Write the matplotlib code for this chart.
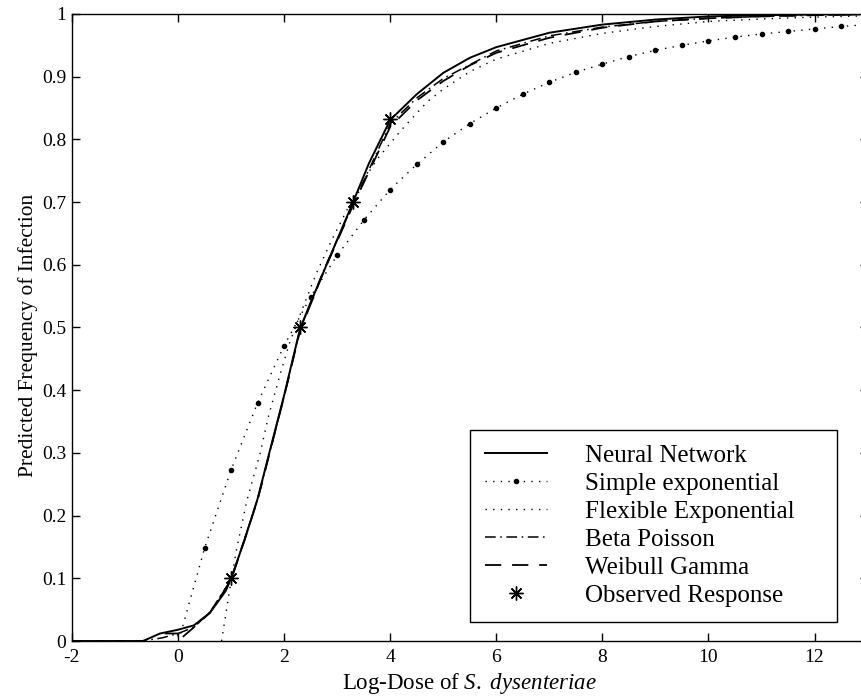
import numpy as np
import matplotlib
matplotlib.use("Agg")
import matplotlib.pyplot as plt

plt.rcParams['font.family'] = ['Liberation Serif', 'DejaVu Serif']
plt.rcParams['mathtext.fontset'] = 'custom'
plt.rcParams['mathtext.rm'] = 'Liberation Serif'
plt.rcParams['mathtext.it'] = 'Liberation Serif:italic'

# Neural network fit
nn_x = [-2, -0.66, -0.34, 0.0, 0.3, 0.6, 0.9, 1.0, 1.25, 1.5, 1.75, 2.0, 2.3, 2.5, 2.75,
        3.0, 3.3, 3.6, 4.0, 4.5, 5.0, 5.5, 6.0, 7.0, 8.0, 9.0, 10.0, 11.0, 12.0, 13.0]
nn_y = [0, 0, 0.012, 0.018, 0.025, 0.045, 0.08, 0.1, 0.16, 0.227, 0.31, 0.392, 0.498, 0.54, 0.59,
        0.64, 0.70, 0.762, 0.831, 0.872, 0.906, 0.93, 0.947, 0.970, 0.983, 0.991, 0.996, 0.998, 0.999, 1.0]

# Simple exponential (dot marker every 0.5)
se_x = [0.05, 0.5, 1.0, 1.5, 2.0, 2.5, 3.0, 3.5, 4.0, 4.5, 5.0, 5.5, 6.0, 6.5, 7.0,
        7.5, 8.0, 8.5, 9.0, 9.5, 10.0, 10.5, 11.0, 11.5, 12.0, 12.5, 13.0]
se_y = [0.012, 0.148, 0.273, 0.38, 0.471, 0.549, 0.615, 0.671, 0.72, 0.76, 0.796, 0.825, 0.85, 0.872, 0.891,
        0.907, 0.92, 0.932, 0.942, 0.95, 0.957, 0.963, 0.968, 0.972, 0.976, 0.98, 0.983]

# Flexible exponential
fe_x = [0.82, 0.95, 1.1, 1.3, 1.55, 1.7, 1.9, 2.1, 2.3, 2.6, 2.9, 3.2, 3.5, 3.75, 4.2,
        4.7, 5.0, 5.5, 6.0, 7.0, 8.0, 9.0, 10.0, 11.0, 12.0, 13.0]
fe_y = [0.0, 0.07, 0.145, 0.225, 0.30, 0.357, 0.418, 0.475, 0.52, 0.585, 0.64, 0.69, 0.735, 0.768, 0.814,
        0.86, 0.88, 0.908, 0.928, 0.953, 0.969, 0.98, 0.988, 0.992, 0.995, 0.997]

# Beta Poisson
bp_x = [-2, -0.7, -0.3, 0.0, 0.3, 0.6, 1.0, 1.5, 2.0, 2.3, 2.75, 3.3, 4.0, 4.5, 5.0,
        6.0, 7.0, 8.0, 9.0, 10.0, 11.0, 12.0, 13.0]
bp_y = [0, 0, 0.005, 0.012, 0.022, 0.046, 0.098, 0.226, 0.39, 0.497, 0.592, 0.697, 0.825, 0.866, 0.897,
        0.941, 0.965, 0.979, 0.988, 0.993, 0.996, 0.998, 0.999]

# Weibull Gamma
wg_x = [-0.25, 0.0, 0.0, 0.3, 0.6, 1.0, 1.5, 2.0, 2.3, 2.75, 3.3, 4.0, 4.5, 5.0, 5.5,
        6.0, 7.0, 8.0, 9.0, 10.0, 11.0, 12.0, 13.0]
wg_y = [0.012, 0.012, 0.0, 0.022, 0.045, 0.097, 0.225, 0.39, 0.495, 0.59, 0.695, 0.82, 0.862, 0.893, 0.918,
        0.938, 0.962, 0.978, 0.988, 0.993, 0.996, 0.998, 0.999]

# Observed data
obs_x = [1.0, 2.3, 3.3, 4.0]
obs_y = [0.1, 0.5, 0.7, 0.833]

xticks = [-2, 0, 2, 4, 6, 8, 10, 12]
yticks = [0, 0.1, 0.2, 0.3, 0.4, 0.5, 0.6, 0.7, 0.8, 0.9, 1]
yticklabels = ['0', '0.1', '0.2', '0.3', '0.4', '0.5', '0.6', '0.7', '0.8', '0.9', '1']

fig = plt.figure(figsize=(8.62, 6.96), dpi=100)
ax = fig.add_axes([0.0835, 0.079, 0.923, 0.901])

ax.plot(nn_x, nn_y, '-', color='black', lw=1.4, label='Neural Network')
ax.plot(se_x, se_y, color='black', lw=1.0, ls=(0, (1, 4.5)), marker='o', markersize=3,
        markevery=list(range(1, len(se_x))), label='Simple exponential')
ax.plot(fe_x, fe_y, color='black', lw=1.0, ls=(0, (1, 4.5)), label='Flexible Exponential')
ax.plot(bp_x, bp_y, color='black', lw=1.1, ls=(0, (7, 3, 1, 3)), label='Beta Poisson')
ax.plot(wg_x, wg_y, color='black', lw=1.3, ls=(0, (9, 6)), label='Weibull Gamma')
ax.plot(obs_x, obs_y, ls='none', marker=(8, 2, 0), markersize=10, color='black',
        markeredgewidth=1.0, label='Observed Response')

ax.set_xlim(-2, 13)
ax.set_ylim(0, 1)
ax.set_xticks(xticks)
ax.set_xticklabels([str(v) for v in xticks])
ax.set_yticks(yticks)
ax.set_yticklabels(yticklabels)
ax.tick_params(direction='in', length=6, width=1, labelsize=14, top=True, right=True)
ax.tick_params(axis='x', pad=6)
ax.tick_params(axis='y', pad=4)
for s in ax.spines.values():
    s.set_linewidth(1.0)

ax.set_xlabel('Log-Dose of $\\mathit{S.\\ dysenteriae}$', fontsize=16.5, labelpad=3)
ax.set_ylabel('Predicted Frequency of Infection', fontsize=15.4)
ax.yaxis.set_label_coords(-0.043, 0.488)

leg = ax.legend(loc='lower left', bbox_to_anchor=(0.5, 0.0303, 0.461, 0.3), mode='expand',
                borderaxespad=0, fontsize=18, numpoints=1, handlelength=2.5, handletextpad=1.5,
                labelspacing=0.22, borderpad=0.6, fancybox=False, framealpha=1,
                edgecolor='black')
leg.get_frame().set_linewidth(1.0)

fig.savefig('out.png', dpi=100)
